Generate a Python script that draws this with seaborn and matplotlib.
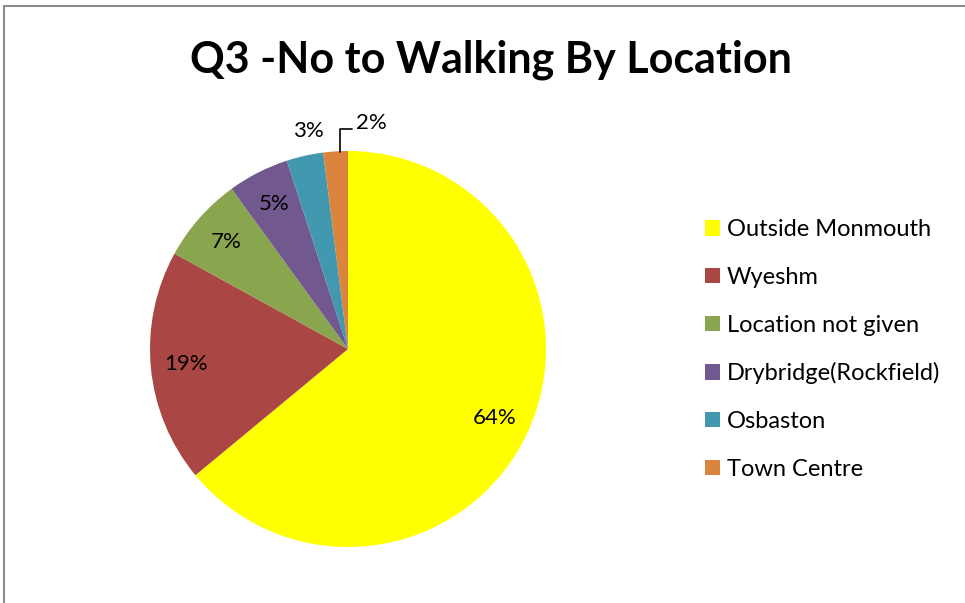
import matplotlib
matplotlib.use("Agg")
import matplotlib.pyplot as plt
import seaborn as sns
from matplotlib.lines import Line2D

categories = ["Outside Monmouth", "Wyeshm", "Location not given",
              "Drybridge(Rockfield)", "Osbaston", "Town Centre"]
values = [64, 19, 7, 5, 3, 2]
colors = ["#FFFF00", "#AA4643", "#89A54E", "#71588F", "#4198AF", "#DB843D"]
title = "Q3 -No to Walking By Location"

sns.set_theme(style="white")
plt.rcParams["font.family"] = ["Lato", "DejaVu Sans"]
plt.rcParams["text.color"] = "black"

W, H = 965, 603
fig = plt.figure(figsize=(W / 100, H / 100), dpi=100)
fig.patch.set_facecolor("white")

cx, cy, r = 348, 349, 198
ax = fig.add_axes([(cx - r) / W, (H - cy - r) / H, 2 * r / W, 2 * r / H])
wedges, texts, autotexts = ax.pie(
    values, colors=colors, startangle=90, counterclock=False,
    autopct="%1.0f%%", pctdistance=0.82,
    wedgeprops=dict(linewidth=0),
    textprops=dict(fontsize=16, color="black"))
ax.set_xlim(-1, 1)
ax.set_ylim(-1, 1)
ax.set_aspect("equal")
ax.axis("off")

# outside labels for the two small slices
autotexts[4].set_position((-0.20, 1.10))
autotexts[5].set_position((0.04, 1.14))
autotexts[5].set_ha("left")
ax.add_line(Line2D([-0.04, -0.04, 0.02], [0.995, 1.11, 1.11],
                   color="black", linewidth=1.2, clip_on=False))
for t in autotexts[4:]:
    t.set_clip_on(False)

fig.text(491 / W, 1 - 60 / H, title, ha="center", va="center",
         fontsize=31, fontweight="bold", color="black")

leg = fig.legend(wedges, categories, loc="upper left",
                 bbox_to_anchor=(684 / W, 1 - 198 / H), frameon=False,
                 fontsize=17, handlelength=0.62, handleheight=0.62,
                 handletextpad=0.3, labelspacing=1.13, labelcolor="black")

# outer chart border (gray)
fig.add_artist(Line2D([3.5 / W, 3.5 / W], [0, 1 - 6 / H], transform=fig.transFigure,
                      color="#8c8c8c", linewidth=1.5))
fig.add_artist(Line2D([3.5 / W, 1], [1 - 6 / H, 1 - 6 / H], transform=fig.transFigure,
                      color="#8c8c8c", linewidth=1.5))

fig.savefig("out.png", dpi=100, facecolor="white")
